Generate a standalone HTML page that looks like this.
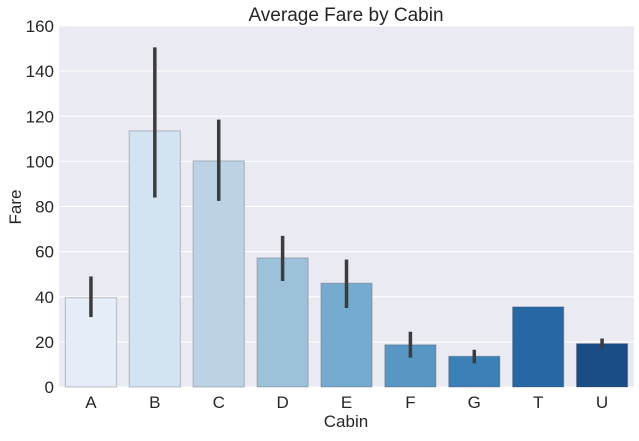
<!DOCTYPE html>
<html><head><meta charset="utf-8"><style>
body{margin:0;background:#fff;}
svg text{font-family:"Liberation Sans",Arial,sans-serif;fill:#262626;}
</style></head><body>
<svg id="chart" width="639" height="436" xmlns="http://www.w3.org/2000/svg">
<rect x="59" y="26" width="575" height="361" fill="#eaeaf2"/>
<g id="grid"></g><g id="bars"></g><g id="errs"></g><g id="ticks"></g>
<text x="346" y="21" font-size="19" text-anchor="middle">Average Fare by Cabin</text>
<text x="346" y="427" font-size="17" text-anchor="middle">Cabin</text>
<text x="21" y="207" font-size="17" text-anchor="middle" transform="rotate(-90 21 207)">Fare</text>
</svg>
<script>
const categories=["A","B","C","D","E","F","G","T","U"];
const values=[39.6,113.5,100.2,57.2,46.0,18.7,13.6,35.5,19.2];
const errLow=[31,84,82.5,47,35,13,10.5,null,17];
const errHigh=[49,150.5,118.5,67,56.5,24.5,16.5,null,21.5];
const colors=["#e5eef8","#d3e3f1","#bcd2e5","#9dc1d8","#76abd0","#5897c3","#3c80b8","#2767a3","#1a4c86"];
const yTicks=[0,20,40,60,80,100,120,140,160];
const NS="http://www.w3.org/2000/svg";
const x0=59,pw=575,y0=387,ph=361;
const y=v=>y0-v/160*ph;
const slot=pw/categories.length;
function mk(t,a,p){const e=document.createElementNS(NS,t);for(const k in a)e.setAttribute(k,a[k]);document.getElementById(p).appendChild(e);return e;}
yTicks.forEach(t=>{
 const l=mk('line',{x1:x0,x2:x0+pw,y1:y(t),y2:y(t),stroke:'#fff','stroke-width':1},'grid');
 
 
 const tx=mk('text',{x:x0-5,y:y(t)+6,'font-size':17,'text-anchor':'end'},'ticks');
 tx.textContent=t;
 
 
});
categories.forEach((c,i)=>{
 const cx=x0+slot*(i+0.5),w=slot*0.8;
 const r=mk('rect',{x:cx-w/2,y:y(values[i]),width:w,height:y0-y(values[i]),fill:colors[i],stroke:'rgba(60,60,80,0.25)','stroke-width':1.2},'bars');
 
 
 if(errLow[i]!=null){
  const e=mk('line',{x1:cx,x2:cx,y1:y(errLow[i]),y2:y(errHigh[i]),stroke:'#3c3c3c','stroke-width':3.5},'errs');
  
  
 }
 const t=mk('text',{x:cx,y:y0+21,'font-size':17,'text-anchor':'middle'},'ticks');
 t.textContent=c;
 
 
});
</script>
</body></html>
